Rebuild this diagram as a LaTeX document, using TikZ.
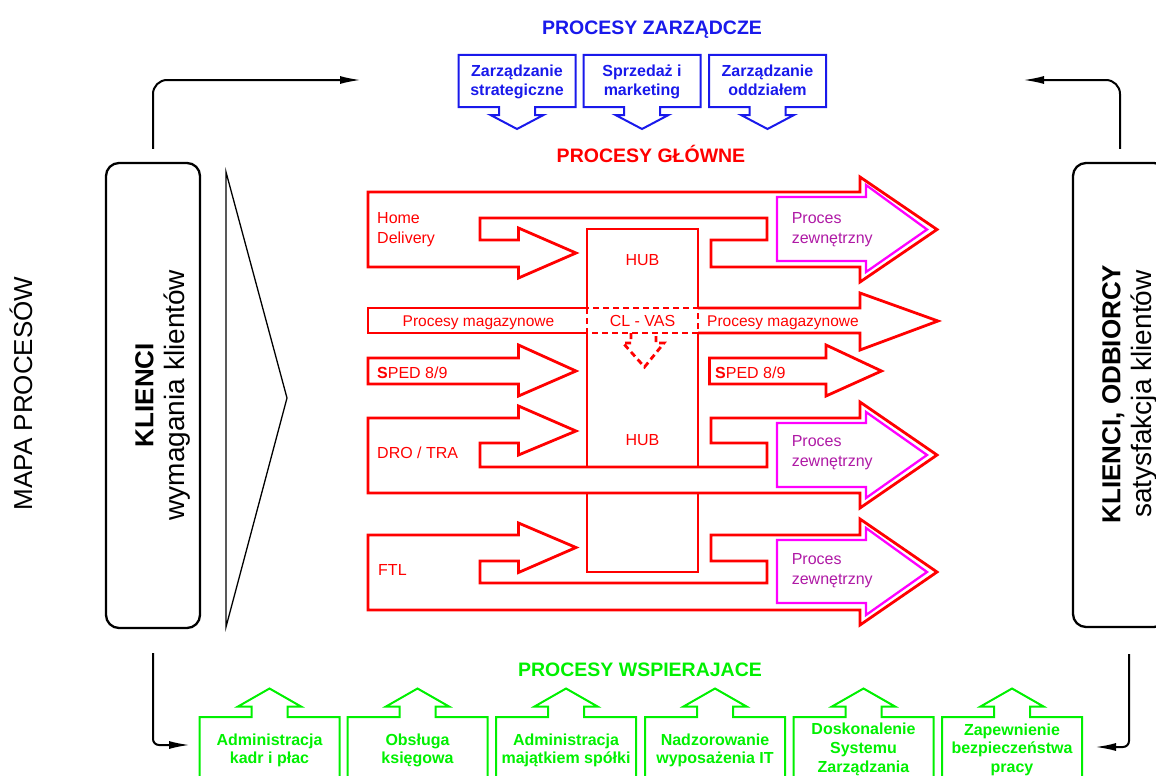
\documentclass[tikz,border=0pt]{standalone}
\usepackage{fontspec}
\setmainfont{Liberation Sans}
\usetikzlibrary{arrows.meta}
\definecolor{zarzblue}{RGB}{25,25,235}
\definecolor{wspgreen}{RGB}{0,240,0}
\definecolor{zewmag}{RGB}{255,0,255}
\definecolor{zewtxt}{RGB}{175,25,165}
\begin{document}
\begin{tikzpicture}[x=1pt, y=-1pt,
    redflow/.style={draw=red, line width=2.8pt},
    redcut/.style={redflow, dash pattern=on 6pt off 4pt},
    zewflow/.style={draw=zewmag, line width=2.3pt},
    zarzflow/.style={draw=zarzblue, line width=2pt},
    wspflow/.style={draw=wspgreen, line width=2pt},
    clientbox/.style={draw, line width=2.3pt, rounded corners=13pt, minimum width=94pt, minimum height=465pt, inner sep=0pt},
    feedback/.style={draw, line width=2pt, -{Latex[length=21pt,width=8pt]}},
    grouptitle/.style={font=\fontsize{19.5}{23}\selectfont\bfseries, inner sep=0pt, anchor=base},
    redlabel/.style={text=red, font=\fontsize{16}{19.5}\selectfont, inner sep=0pt},
    maglabel/.style={text=red, font=\fontsize{15.5}{19}\selectfont, inner sep=0pt, anchor=base},
    zewlabel/.style={text=zewtxt, font=\fontsize{16}{19.5}\selectfont, inner sep=0pt, align=left, anchor=west},
    zarzlabel/.style={text=zarzblue, font=\fontsize{16}{19}\selectfont\bfseries, inner sep=0pt, align=center},
    wsplabel/.style={text=wspgreen, font=\fontsize{16}{18.7}\selectfont\bfseries, inner sep=0pt, align=center},
    clientlabel/.style={rotate=90, font=\fontsize{28}{31}\selectfont, inner sep=0pt, align=center}
  ]
  \useasboundingbox (0,0) rectangle (1156,776);
  \clip (0,0) rectangle (1156,776);

  \node[rotate=90, anchor=base, font=\fontsize{26}{30}\selectfont, inner sep=0pt] (mapa) at (32,393.5) {MAPA PROCESÓW};

  \node[clientbox] (klL) at (153,395.5) {};
  \node[clientlabel] (klLtxt) at (162.7,395) {{\fontsize{26}{31}\selectfont\bfseries KLIENCI}\\wymagania klientów};
  \node[clientbox, minimum height=464pt] (klR) at (1120,395) {};
  \node[clientlabel] (klRtxt) at (1129.7,394) {{\fontsize{26}{31}\selectfont\bfseries KLIENCI, ODBIORCY}\\satysfakcja klientów};
  \draw[line width=1.3pt] (226,172) -- (287,398) -- (226,627) -- cycle;

  \coordinate (inZarz) at (361,80);
  \coordinate (outZarz) at (1023,80);
  \coordinate (inWsp) at (190,745);
  \coordinate (outWsp) at (1095,747);
  \draw[feedback, rounded corners=14pt] ([yshift=13pt]klL.north) |- (inZarz);
  \draw[feedback, rounded corners=14pt] ([yshift=13pt]klR.north) |- (outZarz);
  \draw[feedback, rounded corners=6pt] ([yshift=-24pt]klL.south) |- (inWsp);
  \draw[feedback, rounded corners=6pt] ([xshift=9pt, yshift=-26pt]klR.south) |- (outWsp);

  \node[grouptitle, text=zarzblue] (zarzTitle) at (652,34.3) {PROCESY ZARZĄDCZE};
  \draw[zarzflow] (458.5,55) -- (575.5,55) -- (575.5,107) -- (535,107) -- (535,115) -- (543.5,115) -- (517,129) -- (490.5,115) -- (499,115) -- (499,107) -- (458.5,107) -- cycle;
  \draw[zarzflow] (583.5,55) -- (700.5,55) -- (700.5,107) -- (660,107) -- (660,115) -- (668.5,115) -- (642,129) -- (615.5,115) -- (624,115) -- (624,107) -- (583.5,107) -- cycle;
  \draw[zarzflow] (709,55) -- (826,55) -- (826,107) -- (785.5,107) -- (785.5,115) -- (794,115) -- (767.5,129) -- (741,115) -- (749.5,115) -- (749.5,107) -- (709,107) -- cycle;
  \node[zarzlabel] (zarz1) at (517,82.2) {Zarządzanie\\strategiczne};
  \node[zarzlabel] (zarz2) at (642,82.2) {Sprzedaż i\\marketing};
  \node[zarzlabel] (zarz3) at (767.5,80.5) {Zarządzanie\\oddziałem};

  \node[grouptitle, text=red] (glTitle) at (651,162.3) {PROCESY GŁÓWNE};

  \draw[redflow] (368,192) -- (860,192) -- (860,177) -- (937,229.5) -- (860,282) -- (860,267) -- (711,267) -- (711,240) -- (767,240) -- (767,218) -- (480,218) -- (480,240) -- (518.5,240) -- (518.5,228) -- (576,253) -- (518.5,278) -- (518.5,267) -- (368,267) -- cycle;
  \draw[zewflow] (777,197) -- (866,197) -- (866,185) -- (927,229.5) -- (866,272) -- (866,261) -- (777,261) -- cycle;

  \draw[redflow] (587,308) -- (368,308) -- (368,333) -- (587,333);
  \draw[redflow] (698,308) -- (860,308) -- (860,293) -- (938,321) -- (860,350) -- (860,333) -- (698,333);
  \draw[redcut] (587,308) rectangle (698,333);
  \draw[redcut] (631,333) -- (631,343) -- (623,343) -- (644.5,367) -- (664,343) -- (656,343) -- (656,333);

  \draw[redflow] (587,308) -- (587,229) -- (698,229) -- (698,308);
  \draw[redflow] (587,333) -- (587,467) (698,333) -- (698,467);
  \draw[redflow] (587,493) rectangle (698,572);

  \draw[redflow] (368,358) -- (518.5,358) -- (518.5,345) -- (576,371) -- (518.5,396) -- (518.5,384) -- (368,384) -- cycle;
  \draw[redflow] (709.5,358) -- (826,358) -- (826,345) -- (881.5,371) -- (826,396) -- (826,384) -- (709.5,384) -- cycle;

  \draw[redflow] (368,418) -- (518.5,418) -- (518.5,406) -- (576,431) -- (518.5,455) -- (518.5,443) -- (480,443) -- (480,467) -- (767,467) -- (767,443) -- (711,443) -- (711,418) -- (860,418) -- (860,402) -- (937,455) -- (860,508) -- (860,493) -- (368,493) -- cycle;
  \draw[zewflow] (777,423) -- (866,423) -- (866,412) -- (927,455) -- (866,498) -- (866,487) -- (777,487) -- cycle;

  \draw[redflow] (368,535) -- (518.5,535) -- (518.5,523) -- (576,547.5) -- (518.5,572.5) -- (518.5,561) -- (480,561) -- (480,583) -- (767,583) -- (767,561) -- (711,561) -- (711,535) -- (860,535) -- (860,519) -- (937,572) -- (860,625) -- (860,610) -- (368,610) -- cycle;
  \draw[zewflow] (777,540) -- (866,540) -- (866,528) -- (927,572) -- (866,615) -- (866,603) -- (777,603) -- cycle;

  \node[redlabel, align=left, anchor=west] (home) at (377,229.7) {Home\\Delivery};
  \node[redlabel, anchor=base] (hub1) at (642.5,265.7) {HUB};
  \node[maglabel] (mag1) at (478.5,326.7) {Procesy magazynowe};
  \node[redlabel, anchor=base] (clvas) at (642.5,326.7) {CL - VAS};
  \node[maglabel] (mag2) at (783,326.7) {Procesy magazynowe};
  \node[redlabel, anchor=base west] (sped1) at (377,378.3) {{\bfseries S}PED 8/9};
  \node[redlabel, anchor=base west] (sped2) at (715,378.3) {{\bfseries S}PED 8/9};
  \node[redlabel, anchor=base west] (dro) at (377,458.3) {DRO / TRA};
  \node[redlabel, anchor=base] (hub2) at (642.5,445) {HUB};
  \node[redlabel, anchor=base west] (ftl) at (378,575.7) {FTL};
  \node[zewlabel] (zew1) at (791.6,229.7) {Proces\\zewnętrzny};
  \node[zewlabel] (zew2) at (791.6,452.6) {Proces\\zewnętrzny};
  \node[zewlabel] (zew3) at (791.6,570.8) {Proces\\zewnętrzny};

  \node[grouptitle, text=wspgreen] (wspTitle) at (640,676.7) {PROCESY WSPIERAJACE};
  \draw[wspflow] (199.5,790) -- (199.5,717) -- (251.5,717) -- (251.5,706.5) -- (238,706.5) -- (269.5,688.5) -- (301,706.5) -- (287.5,706.5) -- (287.5,717) -- (339.5,717) -- (339.5,790);
  \draw[wspflow] (347.5,790) -- (347.5,717) -- (399.5,717) -- (399.5,706.5) -- (386,706.5) -- (417.5,688.5) -- (449,706.5) -- (435.5,706.5) -- (435.5,717) -- (487.5,717) -- (487.5,790);
  \draw[wspflow] (496,790) -- (496,717) -- (548,717) -- (548,706.5) -- (534.5,706.5) -- (566,688.5) -- (597.5,706.5) -- (584,706.5) -- (584,717) -- (636,717) -- (636,790);
  \draw[wspflow] (645,790) -- (645,717) -- (697,717) -- (697,706.5) -- (683.5,706.5) -- (715,688.5) -- (746.5,706.5) -- (733,706.5) -- (733,717) -- (785,717) -- (785,790);
  \draw[wspflow] (793.5,790) -- (793.5,717) -- (845.5,717) -- (845.5,706.5) -- (832,706.5) -- (863.5,688.5) -- (895,706.5) -- (881.5,706.5) -- (881.5,717) -- (933.5,717) -- (933.5,790);
  \draw[wspflow] (942,790) -- (942,717) -- (994,717) -- (994,706.5) -- (980.5,706.5) -- (1012,688.5) -- (1043.5,706.5) -- (1030,706.5) -- (1030,717) -- (1082,717) -- (1082,790);
  \node[wsplabel] (wsp1) at (269.5,750.4) {Administracja\\kadr i płac};
  \node[wsplabel] (wsp2) at (417.5,750.4) {Obsługa\\księgowa};
  \node[wsplabel] (wsp3) at (566,750.4) {Administracja\\majątkiem spółki};
  \node[wsplabel] (wsp4) at (715,750.4) {Nadzorowanie\\wyposażenia IT};
  \node[wsplabel] (wsp5) at (863.5,749.4) {Doskonalenie\\Systemu\\Zarządzania};
  \node[wsplabel] (wsp6) at (1012,749.6) {Zapewnienie\\bezpieczeństwa\\pracy};
\end{tikzpicture}
\end{document}
